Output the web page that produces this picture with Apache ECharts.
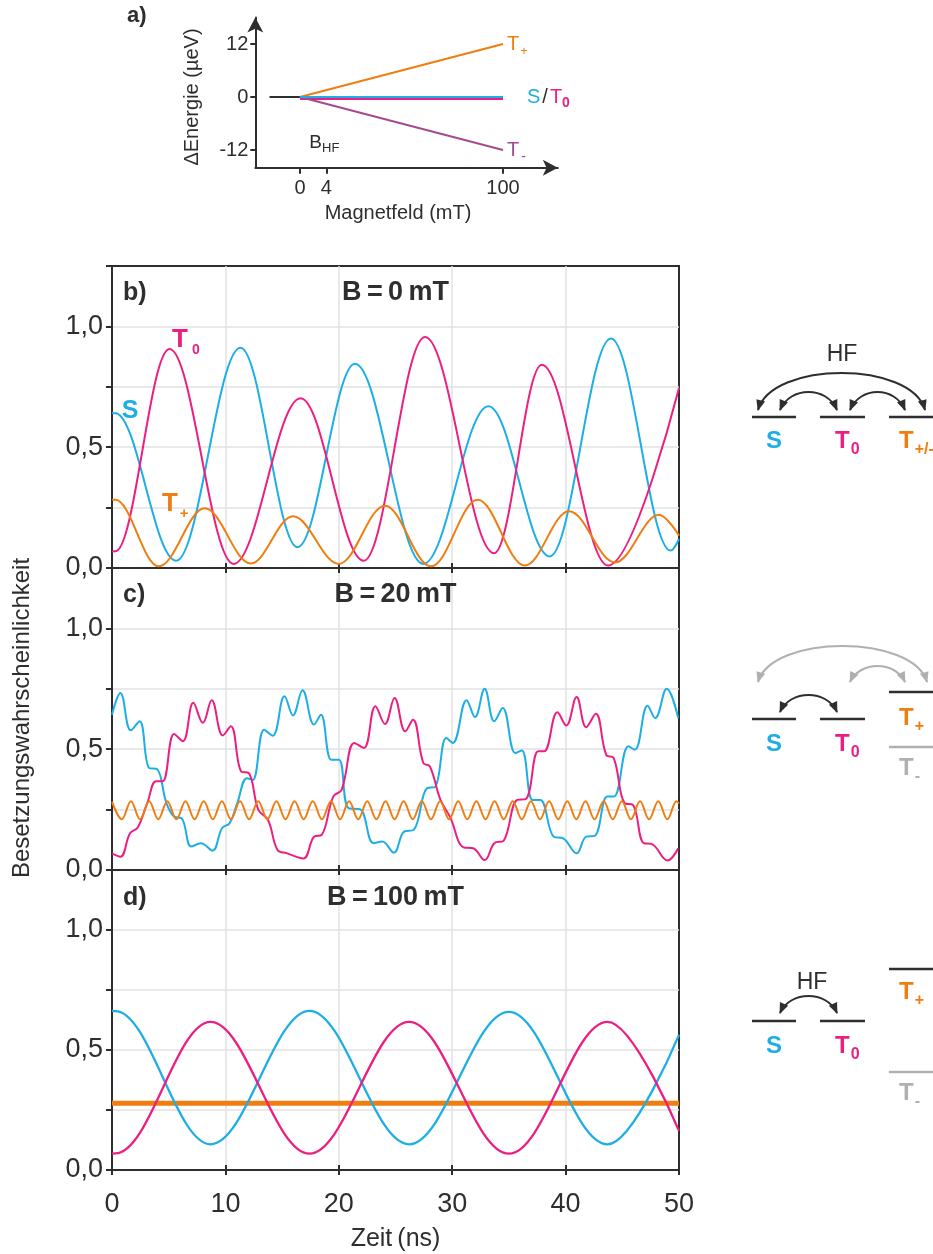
<!DOCTYPE html>
<html>
<head>
<meta charset="utf-8">
<script src="https://cdn.jsdelivr.net/npm/echarts@6/dist/echarts.min.js"></script>
<style>
  html, body { margin: 0; padding: 0; background: #fff; }
  #chart { width: 933px; height: 1254px; }
</style>
</head>
<body>
<div id="chart"></div>
<script>
// ---------- data ----------
// time axis (ns) and probability ticks
const timeTicks = [0, 10, 20, 30, 40, 50];
const probLabels = ['0,0', '', '0,5', '', '1,0', ''];

// panel a: energy levels vs. magnetic field (mT, µeV)
const fieldTicks = [0, 4, 100];
const energyTicks = [-12, 0, 12];
const energyLead = [[-15, 0], [0, 0]];
const energyS = [[0, 0], [100, 0]];
const energyT0 = [[0, 0], [100, 0]];
const energyTplus = [[0, 0], [100, 12]];
const energyTminus = [[0, 0], [100, -12]];

// panel b: B = 0 mT  [t (ns), probability] — turning points of each curve
const sB0 = [[0, 0.642], [0.3, 0.641], [5.65, 0.030], [11.33, 0.912], [16.36, 0.086], [21.43, 0.845],
  [27.45, 0.017], [33.2, 0.670], [38.6, 0.048], [44.0, 0.950], [49.26, 0.072], [50, 0.12]];
const t0B0 = [[0, 0.068], [0.3, 0.069], [5.07, 0.906], [10.72, 0.017], [16.63, 0.703], [22.2, 0.030],
  [27.6, 0.956], [33.7, 0.061], [37.9, 0.841], [43.75, 0.010], [50, 0.745]];
const tpB0 = [[0, 0.283], [0.3, 0.282], [4.12, 0.007], [8.18, 0.247], [12.24, 0.019], [15.96, 0.214],
  [20.0, 0.017], [24.07, 0.258], [28.13, 0.007], [32.25, 0.282], [36.4, 0.010], [40.3, 0.235],
  [44.35, 0.023], [48.24, 0.220], [50, 0.134]];

// panel c: B = 20 mT
const sB20 = [[0, 0.643], [0.74, 0.733], [1.66, 0.578], [2.43, 0.616], [3.28, 0.422], [3.96, 0.418],
  [4.80, 0.277], [5.48, 0.221], [6.15, 0.214], [7.00, 0.097], [7.84, 0.111], [8.86, 0.080],
  [9.70, 0.173], [10.38, 0.194], [11.05, 0.277], [11.90, 0.380], [12.41, 0.373], [13.42, 0.581],
  [14.17, 0.556], [15.21, 0.719], [15.96, 0.640], [16.80, 0.744], [17.82, 0.602], [18.42, 0.643],
  [19.34, 0.456], [20.01, 0.456], [20.86, 0.256], [21.87, 0.252], [23.06, 0.111], [23.83, 0.118],
  [24.85, 0.072], [25.76, 0.159], [26.61, 0.166], [27.79, 0.339], [28.47, 0.343], [29.48, 0.546],
  [30.05, 0.526], [31.27, 0.703], [32.01, 0.633], [32.86, 0.750], [33.71, 0.616], [34.45, 0.671],
  [35.57, 0.484], [36.14, 0.495], [37.09, 0.290], [37.76, 0.290], [38.95, 0.138], [39.79, 0.131],
  [40.97, 0.069], [41.82, 0.138], [42.56, 0.141], [43.68, 0.304], [44.25, 0.304], [45.54, 0.512],
  [46.11, 0.498], [47.23, 0.680], [47.90, 0.629], [48.92, 0.750], [49.93, 0.629]];
const t0B20 = [[0, 0.069], [0.74, 0.055], [1.59, 0.152], [2.27, 0.176], [3.11, 0.277], [3.89, 0.367],
  [4.46, 0.367], [5.48, 0.563], [6.25, 0.533], [7.17, 0.692], [8.01, 0.609], [8.79, 0.703],
  [9.77, 0.557], [10.48, 0.595], [11.39, 0.408], [12.07, 0.401], [12.91, 0.249], [13.76, 0.207],
  [14.60, 0.083], [15.45, 0.069], [16.87, 0.048], [17.82, 0.138], [18.49, 0.145], [19.51, 0.304],
  [20.25, 0.332], [21.37, 0.526], [22.21, 0.505], [23.23, 0.678], [24.07, 0.604], [24.92, 0.712],
  [25.86, 0.574], [26.54, 0.622], [27.45, 0.443], [28.03, 0.429], [28.97, 0.290], [29.82, 0.219],
  [31.00, 0.094], [31.85, 0.090], [32.86, 0.041], [33.71, 0.111], [34.55, 0.122], [35.73, 0.290],
  [36.48, 0.293], [37.59, 0.491], [38.10, 0.491], [39.28, 0.653], [40.06, 0.598], [40.97, 0.716],
  [41.82, 0.591], [42.66, 0.647], [43.58, 0.477], [44.25, 0.463], [45.20, 0.277], [45.94, 0.270],
  [46.89, 0.111], [47.57, 0.108], [48.99, 0.039], [49.93, 0.090]];
const tpB20 = [[0, 0.283], [0.87, 0.21], [1.67, 0.285], [2.47, 0.21], [3.28, 0.285], [4.08, 0.21],
  [4.88, 0.285], [5.68, 0.21], [6.48, 0.285], [7.28, 0.21], [8.09, 0.285], [8.89, 0.21],
  [9.69, 0.285], [10.49, 0.21], [11.29, 0.285], [12.09, 0.21], [12.90, 0.285], [13.70, 0.21],
  [14.50, 0.285], [15.30, 0.21], [16.10, 0.285], [16.90, 0.21], [17.70, 0.285], [18.51, 0.21],
  [19.31, 0.285], [20.11, 0.21], [20.91, 0.285], [21.71, 0.21], [22.51, 0.285], [23.32, 0.21],
  [24.12, 0.285], [24.92, 0.21], [25.72, 0.285], [26.52, 0.21], [27.32, 0.285], [28.13, 0.21],
  [28.93, 0.285], [29.73, 0.21], [30.53, 0.285], [31.33, 0.21], [32.13, 0.285], [32.94, 0.21],
  [33.74, 0.285], [34.54, 0.21], [35.34, 0.285], [36.14, 0.21], [36.94, 0.285], [37.74, 0.21],
  [38.55, 0.285], [39.35, 0.21], [40.15, 0.285], [40.95, 0.21], [41.75, 0.285], [42.55, 0.21],
  [43.36, 0.285], [44.16, 0.21], [44.96, 0.285], [45.76, 0.21], [46.56, 0.285], [47.36, 0.21],
  [48.17, 0.285], [48.97, 0.21], [49.77, 0.285], [50, 0.275]];

// panel d: B = 100 mT
const sB100 = [[0, 0.663], [0.3, 0.662], [8.69, 0.107], [17.41, 0.663], [26.2, 0.107], [35.0, 0.659], [43.7, 0.107], [50, 0.563]];
const t0B100 = [[0, 0.068], [0.3, 0.069], [8.69, 0.617], [17.41, 0.068], [26.2, 0.617], [35.0, 0.068], [43.7, 0.617], [50, 0.163]];
const tpB100 = [[0, 0.278], [50, 0.278]];

// ---------- styling ----------
const FONT = '"Liberation Sans", Arial, Helvetica, sans-serif';
const DARK = '#2e2e2e';
const C_S = '#1daee6';
const C_T0 = '#ec1f80';
const C_TP = '#ef7d10';
const C_TM = '#a54a90';
const C_GRAY = '#b0b0b0';
const C_GRID = '#e2e2e2';

const PLOT_L = 112, PLOT_W = 567;
const panelTop = [266, 568, 870];
const panelH = [302, 302, 300];
const TICK_FS = 27;

// schematic field axis of panel a: the 0..4 mT range is stretched
function fieldPos(b) {
  if (b <= 0) return b;
  if (b <= 4) return b * 3.25;
  return 13 + (b - 4) * 87 / 96;
}
function fieldAt(p) {
  if (p <= 0) return p;
  if (p <= 13) return p / 3.25;
  return 4 + (p - 13) * 96 / 87;
}

const grids = panelTop.map((top, i) => ({
  left: PLOT_L, top, width: PLOT_W, height: panelH[i],
  show: true, borderColor: DARK, borderWidth: 2, backgroundColor: 'transparent'
}));
grids.push({ left: 255.3, top: 17.5, width: 302.5, height: 150.2 });

const xAxes = [];
for (let i = 0; i < 3; i++) {
  xAxes.push({
    gridIndex: i, type: 'value', min: timeTicks[0], max: timeTicks[timeTicks.length - 1], interval: 10,
    position: 'bottom',
    axisLine: { onZero: false, lineStyle: { color: DARK, width: 2 } },
    axisTick: { length: 5, lineStyle: { color: DARK, width: 2 } },
    axisLabel: { show: i === 2, fontSize: TICK_FS, color: DARK, fontFamily: FONT, margin: 21 },
    splitLine: { show: true, showMinLine: false, showMaxLine: false, lineStyle: { color: C_GRID, width: 1.5 } }
  });
}
for (let i = 0; i < 3; i++) {
  // inward half of the crossing ticks
  xAxes.push({
    gridIndex: i, type: 'value', min: 0, max: 50, interval: 10, position: 'bottom',
    axisLine: { show: false, onZero: false },
    axisTick: { inside: true, length: 5, lineStyle: { color: DARK, width: 2 } },
    axisLabel: { show: false }, splitLine: { show: false }
  });
}
xAxes.push({
  gridIndex: 3, type: 'value', min: -22, max: 127,
  axisLine: { onZero: false, symbol: ['none', 'arrow'], symbolSize: [12, 15], lineStyle: { color: DARK, width: 2 } },
  axisTick: { customValues: fieldTicks.map(fieldPos), length: 6, lineStyle: { color: DARK, width: 2 } },
  axisLabel: {
    customValues: fieldTicks.map(fieldPos), fontSize: 20, color: DARK, fontFamily: FONT, margin: 11,
    formatter: v => String(Math.round(fieldAt(v)))
  },
  splitLine: { show: false }
});

const yAxes = [];
for (let i = 0; i < 3; i++) {
  yAxes.push({
    gridIndex: i, type: 'value', min: 0, max: 1.25, interval: 0.25,
    axisLine: { onZero: false, lineStyle: { color: DARK, width: 2 } },
    axisTick: { length: 6, lineStyle: { color: DARK, width: 2 } },
    axisLabel: {
      fontSize: TICK_FS, color: DARK, fontFamily: FONT, margin: 9,
      formatter: v => probLabels[Math.round(v / 0.25)] || ''
    },
    splitLine: { show: true, showMinLine: false, showMaxLine: false, lineStyle: { color: C_GRID, width: 1.5 } }
  });
}
yAxes.push({
  gridIndex: 3, type: 'value', min: -16, max: 18,
  axisLine: { onZero: false, symbol: ['none', 'arrow'], symbolSize: [12, 15], lineStyle: { color: DARK, width: 2 } },
  axisTick: { customValues: energyTicks, length: 5, lineStyle: { color: DARK, width: 2 } },
  axisLabel: { customValues: energyTicks, fontSize: 20, color: DARK, fontFamily: FONT, margin: 7 },
  splitLine: { show: false }
});

// turning-point data: horizontal tangent at every point
const WAVE = { smooth: 0.36, monotone: 'x' };
function line(name, data, color, grid, extra) {
  const o = extra || {};
  const s = {
    type: 'line', name, data,
    xAxisIndex: grid === 3 ? 6 : grid, yAxisIndex: grid,
    showSymbol: false, symbol: 'none', silent: true,
    smooth: o.smooth !== undefined ? o.smooth : 0.36,
    lineStyle: Object.assign({ color, width: 2 }, o.lineStyle || {}),
    itemStyle: { color }, z: o.z || 2
  };
  if (o.monotone) s.smoothMonotone = o.monotone;
  return s;
}
const toField = arr => arr.map(([b, e]) => [fieldPos(b), e]);

const series = [
  line('S', sB0, C_S, 0, WAVE), line('T0', t0B0, C_T0, 0, WAVE), line('T+', tpB0, C_TP, 0, WAVE),
  line('S', sB20, C_S, 1, { smooth: 0.4 }), line('T0', t0B20, C_T0, 1, { smooth: 0.4 }), line('T+', tpB20, C_TP, 1, WAVE),
  line('T+', tpB100, C_TP, 2, { smooth: false, lineStyle: { width: 5 } }),
  line('S', sB100, C_S, 2, Object.assign({ lineStyle: { width: 2.3 } }, WAVE)),
  line('T0', t0B100, C_T0, 2, Object.assign({ lineStyle: { width: 2.3 } }, WAVE)),
  line('lead', toField(energyLead), DARK, 3, { smooth: false }),
  line('T0', toField(energyT0), C_T0, 3, { smooth: false, lineStyle: { width: 2, shadowColor: C_T0, shadowOffsetY: 2, shadowBlur: 0 } }),
  line('S', toField(energyS), C_S, 3, { smooth: false, z: 3 }),
  line('T+', toField(energyTplus), C_TP, 3, { smooth: false }),
  line('T-', toField(energyTminus), C_TM, 3, { smooth: false })
];

const chart = echarts.init(document.getElementById('chart'));
chart.setOption({
  animation: false,
  backgroundColor: '#ffffff',
  textStyle: { fontFamily: FONT },
  grid: grids, xAxis: xAxes, yAxis: yAxes, series
});

// ---------- annotations and level schemes ----------
const ctx = document.createElement('canvas').getContext('2d');
function textWidth(str, size, weight) {
  ctx.font = (weight || 'normal') + ' ' + size + 'px ' + FONT;
  return ctx.measureText(str).width;
}
function txt(x, y, text, size, color, opts) {
  const o = opts || {};
  return {
    type: 'text', x, y, rotation: o.rot || 0, silent: true,
    style: { text, fontSize: size, fontFamily: FONT, fontWeight: o.weight || 'normal', fill: color,
      align: o.align || 'center', verticalAlign: 'middle' }
  };
}
// text made of consecutive runs (used for subscripts)
function runs(x, y, parts, align) {
  const widths = parts.map(p => textWidth(p.t, p.size, p.weight) + (p.dx || 0));
  const total = widths.reduce((a, b) => a + b, 0);
  let cx = align === 'center' ? x - total / 2 : (align === 'right' ? x - total : x);
  const children = parts.map((p, i) => {
    const el = txt(cx + (p.dx || 0), y + (p.dy || 0), p.t, p.size, p.color, { weight: p.weight, align: 'left' });
    cx += widths[i];
    return el;
  });
  return { type: 'group', silent: true, children };
}
function hbar(x1, x2, y, color) {
  return { type: 'line', silent: true, shape: { x1, y1: y, x2, y2: y }, style: { stroke: color, lineWidth: 2.5 } };
}
function arrowHead(tip, from, color) {
  const dx = tip[0] - from[0], dy = tip[1] - from[1];
  const L = Math.hypot(dx, dy), ux = dx / L, uy = dy / L;
  const len = 10, half = 4.5;
  const bx = tip[0] - ux * len, by = tip[1] - uy * len;
  return { type: 'polygon', silent: true,
    shape: { points: [[tip[0] + ux, tip[1] + uy], [bx - uy * half, by + ux * half], [bx + uy * half, by - ux * half]] },
    style: { fill: color } };
}
// double-headed arc between two levels; apex at yTop
function arc(x1, x2, yEnd, yTop, color, k) {
  const yc = (8 * yTop - 2 * yEnd) / 6;
  const c1 = [x1 + k, yc], c2 = [x2 - k, yc];
  return [
    { type: 'bezierCurve', silent: true,
      shape: { x1, y1: yEnd, x2, y2: yEnd, cpx1: c1[0], cpy1: c1[1], cpx2: c2[0], cpy2: c2[1] },
      style: { stroke: color, lineWidth: 2, fill: null } },
    arrowHead([x1, yEnd], c1, color), arrowHead([x2, yEnd], c2, color)
  ];
}
function symbolS(x, y) { return txt(x, y, 'S', 24, C_S, { weight: 'bold' }); }
function symbolT(x, y, sub, color, align) {
  return runs(x, y, [
    { t: 'T', size: 24, weight: 'bold', color },
    { t: sub, size: 16, weight: 'bold', color, dy: 9, dx: 1 }
  ], align || 'left');
}

const px = (grid, pt) => chart.convertToPixel({ gridIndex: grid }, pt);
const g = [];

// panel a
g.push(txt(127, 16, 'a)', 22, DARK, { weight: 'bold', align: 'left' }));
g.push(txt(192, 97, 'ΔEnergie (µeV)', 20, DARK, { rot: Math.PI / 2 }));
g.push(txt(398, 213, 'Magnetfeld (mT)', 20, DARK));
const pHF = px(3, [fieldPos(4), -16]);
g.push(runs(pHF[0] - 2, pHF[1] - 25, [
  { t: 'B', size: 19, color: DARK }, { t: 'HF', size: 13, color: DARK, dy: 6 }
], 'center'));
const pTp = px(3, [fieldPos(100), 12]);
g.push(runs(pTp[0] + 4, pTp[1], [{ t: 'T', size: 20, color: C_TP }, { t: '+', size: 13, color: C_TP, dy: 7, dx: 1 }]));
const pS0 = px(3, [fieldPos(100), 0]);
g.push(runs(pS0[0] + 24, pS0[1], [
  { t: 'S', size: 20, color: C_S }, { t: '/', size: 20, color: DARK, dx: 2 },
  { t: 'T', size: 20, color: C_T0, dx: 2 }, { t: '0', size: 14, color: C_T0, weight: 'bold', dy: 6 }
]));
const pTm = px(3, [fieldPos(100), -12]);
g.push(runs(pTm[0] + 4, pTm[1], [{ t: 'T', size: 20, color: C_TM }, { t: '-', size: 14, color: C_TM, dy: 7, dx: 2 }]));

// main panels: letters and field values
const letters = ['b)', 'c)', 'd)'];
const titles = ['B\u2009=\u20090\u2009mT', 'B\u2009=\u200920\u2009mT', 'B\u2009=\u2009100\u2009mT'];
const titleY = [293, 595, 898];
for (let i = 0; i < 3; i++) {
  g.push(txt(123, titleY[i], letters[i], 25, DARK, { weight: 'bold', align: 'left' }));
  g.push(txt(PLOT_L + PLOT_W / 2, titleY[i], titles[i], 27, DARK, { weight: 'bold' }));
}
g.push(txt(22, 718, 'Besetzungswahrscheinlichkeit', 24, DARK, { rot: Math.PI / 2 }));
g.push(txt(PLOT_L + PLOT_W / 2, 1239, 'Zeit\u2009(ns)', 25, DARK));

// curve names in panel b
const lS = px(0, [1.6, 0.65]);
g.push(txt(lS[0], lS[1], 'S', 25, C_S, { weight: 'bold' }));
const lT0 = px(0, [5.3, 0.945]);
g.push(runs(lT0[0], lT0[1], [{ t: 'T', size: 26, weight: 'bold', color: C_T0 }, { t: '0', size: 14, weight: 'bold', color: C_T0, dy: 10, dx: 4 }]));
const lTp = px(0, [4.4, 0.265]);
g.push(runs(lTp[0], lTp[1], [{ t: 'T', size: 26, weight: 'bold', color: C_TP }, { t: '+', size: 15, weight: 'bold', color: C_TP, dy: 10, dx: 2 }]));

// level scheme, B = 0
g.push(txt(842, 355, 'HF', 23, DARK));
g.push(...arc(758, 925, 410, 373, DARK, 14));
g.push(...arc(780, 837, 410, 392, DARK, 10));
g.push(...arc(850, 905, 410, 392, DARK, 10));
g.push(hbar(752, 796, 417, DARK), hbar(820, 865, 417, DARK), hbar(889, 935, 417, DARK));
g.push(symbolS(774, 441), symbolT(835, 441, '0', C_T0), symbolT(899, 441, '+/-', C_TP));

// level scheme, B = 20 mT
g.push(...arc(758, 927, 682, 646, C_GRAY, 14));
g.push(...arc(850, 905, 682, 666, C_GRAY, 10));
g.push(...arc(780, 837, 712, 695, DARK, 10));
g.push(hbar(752, 796, 719, DARK), hbar(820, 865, 719, DARK), hbar(889, 935, 692, DARK), hbar(889, 935, 747, C_GRAY));
g.push(symbolS(774, 744), symbolT(835, 744, '0', C_T0), symbolT(899, 718, '+', C_TP), symbolT(899, 768, '-', C_GRAY));

// level scheme, B = 100 mT
g.push(txt(812, 983, 'HF', 23, DARK));
g.push(...arc(780, 837, 1013, 996, DARK, 10));
g.push(hbar(752, 796, 1021, DARK), hbar(820, 865, 1021, DARK), hbar(889, 935, 969, DARK), hbar(889, 935, 1072, C_GRAY));
g.push(symbolS(774, 1046), symbolT(835, 1046, '0', C_T0), symbolT(899, 992, '+', C_TP), symbolT(899, 1093, '-', C_GRAY));

chart.setOption({ graphic: { elements: g } });
</script>
</body>
</html>
